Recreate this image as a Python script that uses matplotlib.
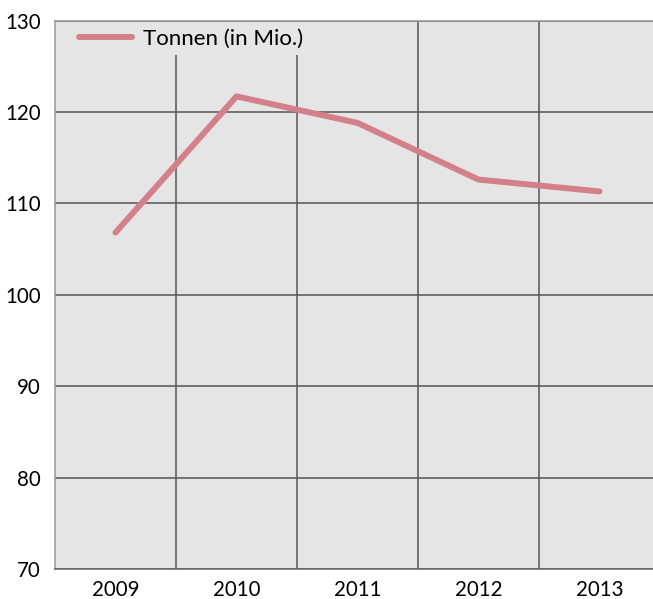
import matplotlib.pyplot as plt

years = ['2009', '2010', '2011', '2012', '2013']
tonnen = [106.8, 121.7, 118.8, 112.6, 111.3]
y_ticks = [70, 80, 90, 100, 110, 120, 130]

plt.rcParams['font.family'] = ['Lato', 'DejaVu Sans']

fig = plt.figure(figsize=(6.53, 5.99), dpi=100)
W, H = 653, 599
ax = fig.add_axes([55 / W, (H - 569) / H, 605 / W, 548.5 / H])
ax.set_facecolor('#e5e5e5')

x = range(len(years))
ax.plot(x, tonnen, color='#d4808a', lw=4.3, solid_capstyle='round',
        solid_joinstyle='round', label='Tonnen (in Mio.)')

ax.set_xlim(-0.5, len(years) - 0.5)
ax.set_ylim(70, 130)
ax.set_yticks(y_ticks)
ax.set_xticks(list(x))
ax.set_xticklabels(years)
ax.set_xticks([i + 0.5 for i in range(len(years) - 1)], minor=True)

ax.grid(axis='y', which='major', color='#555555', lw=1.1)
ax.grid(axis='x', which='minor', color='#555555', lw=1.1)
ax.set_axisbelow(True)
ax.tick_params(which='both', length=0)
ax.tick_params(axis='y', pad=10, labelsize=14.8)
ax.tick_params(axis='x', pad=8, labelsize=14.8)

ax.spines['top'].set_color('#999999')
ax.spines['left'].set_color('#999999')
ax.spines['bottom'].set_color('#666666')
ax.spines['right'].set_visible(False)
for s in ax.spines.values():
    s.set_linewidth(1.1)

# legend box hides the vertical gridlines behind it, as in the original
leg = ax.legend(loc='upper left', frameon=True, fontsize=16,
                handlelength=2.4, handletextpad=0.5, borderpad=0.3,
                borderaxespad=0, fancybox=False,
                bbox_to_anchor=(0.028, 0.997))
leg.get_frame().set_facecolor('#e5e5e5')
leg.get_frame().set_edgecolor('none')
leg.get_frame().set_alpha(1)

fig.savefig('out.png', dpi=100)
